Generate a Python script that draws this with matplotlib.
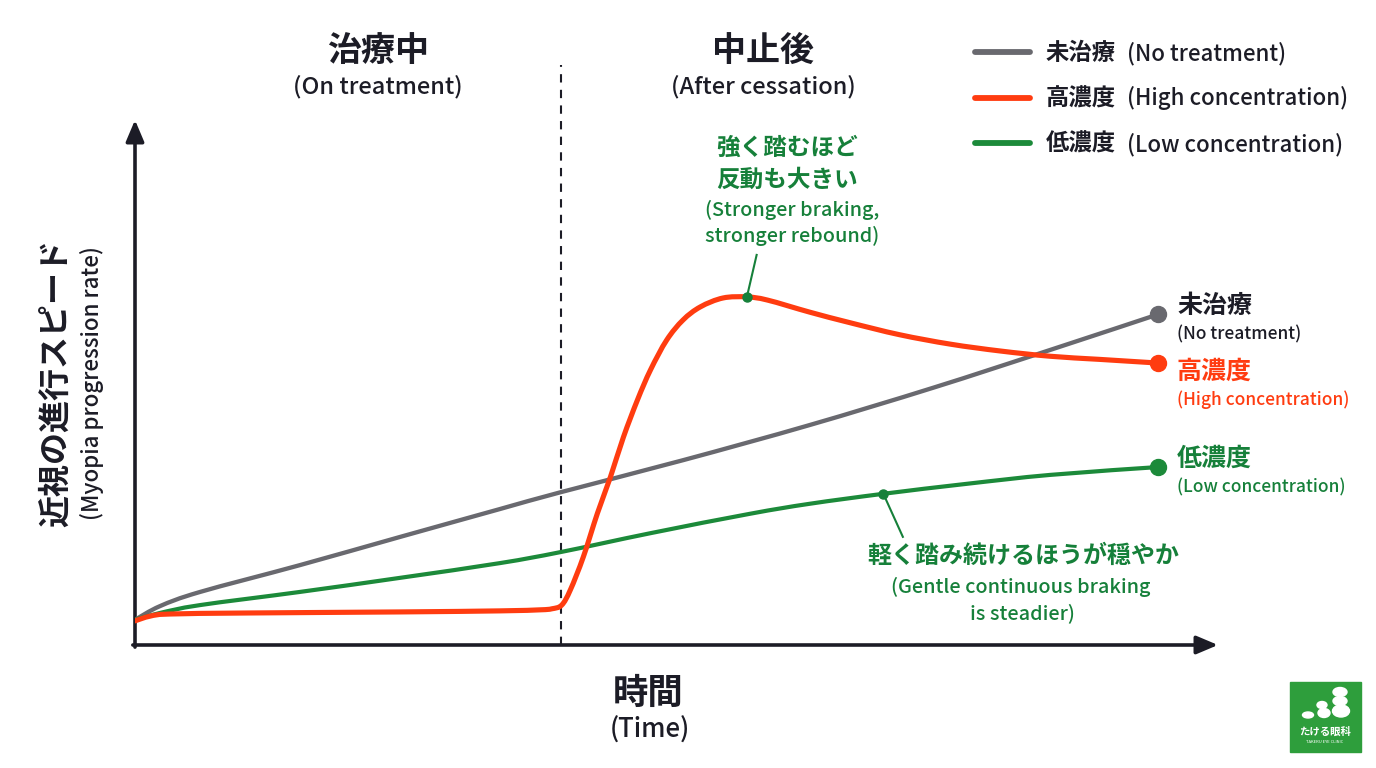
"""Myopia progression rate: on-treatment vs after-cessation (atropine concentration)."""

import matplotlib

matplotlib.use("Agg")
import matplotlib.pyplot as plt  # noqa: E402
import numpy as np  # noqa: E402
from matplotlib.patches import Ellipse, PathPatch, Rectangle  # noqa: E402
from matplotlib.path import Path  # noqa: E402

plt.rcParams["font.family"] = ["Noto Sans CJK JP", "DejaVu Sans"]

# --- data (time units 0..10, rate units 0..10) ---
CESSATION_T = 3.93

none_t = [0.0, 0.23, 0.60, 1.52, 2.45, 3.37, 3.93, 5.06, 6.23, 7.37, 8.45, 9.45]
none_v = [0.48, 0.74, 1.01, 1.52, 2.06, 2.59, 2.91, 3.52, 4.19, 4.90, 5.62, 6.30]

high_t = [0.0, 0.14, 0.32, 1.06, 2.45, 3.37, 3.74, 3.85, 3.94, 4.02, 4.14, 4.27,
          4.39, 4.51, 4.64, 4.76, 4.91, 5.06, 5.22, 5.43, 5.65, 5.84, 6.23, 6.60,
          7.06, 7.53, 7.99, 8.45, 8.91, 9.45]
high_v = [0.46, 0.55, 0.59, 0.61, 0.63, 0.65, 0.67, 0.69, 0.76, 1.05, 1.68, 2.51,
          3.20, 3.96, 4.67, 5.24, 5.81, 6.19, 6.44, 6.61, 6.63, 6.57, 6.34, 6.14,
          5.91, 5.73, 5.60, 5.50, 5.44, 5.37]

low_t = [0.0, 0.23, 0.60, 1.52, 2.45, 3.37, 3.93, 4.76, 5.68, 6.23, 6.91, 7.68, 8.45, 9.45]
low_v = [0.48, 0.61, 0.76, 1.01, 1.28, 1.56, 1.77, 2.13, 2.50, 2.69, 2.88, 3.07, 3.24, 3.39]

GRAY, RED, GREEN = "#69696f", "#ff3c10", "#1c8a3a"
TXT_GREEN = "#16803a"
INK = "#1c1c26"

W, H = 1376, 768


def fp(x, y):
    """pixel position -> figure fraction"""
    return x / W, 1 - y / H


def smooth_curve(ax, xs, ys, **kw):
    """Draw a Catmull-Rom style smooth line through the points as a bezier path."""
    pts = np.column_stack([xs, ys])
    n = len(pts)
    verts, codes = [pts[0]], [Path.MOVETO]
    for i in range(n - 1):
        p0 = pts[max(i - 1, 0)]
        p1, p2 = pts[i], pts[i + 1]
        p3 = pts[min(i + 2, n - 1)]
        verts += [p1 + (p2 - p0) / 6, p2 - (p3 - p1) / 6, p2]
        codes += [Path.CURVE4] * 3
    ax.add_patch(PathPatch(Path(verts, codes), fill=False, capstyle="round",
                           joinstyle="round", **kw))


fig = plt.figure(figsize=(W / 100, H / 100), dpi=100)
fig.patch.set_facecolor("white")
ax = fig.add_axes([135 / W, 1 - 645 / H, (1218 - 135) / W, (645 - 120) / H])
ax.set_xlim(0, 10)
ax.set_ylim(0, 10)
for s in ax.spines.values():
    s.set_visible(False)
ax.set_xticks([])
ax.set_yticks([])

# axes with arrow heads
arrow = dict(arrowstyle="-|>,head_length=1.3,head_width=0.55", color=INK, lw=2.6,
             shrinkA=0, shrinkB=0)
ax.annotate("", xy=(10, 0), xytext=(-0.02, 0), arrowprops=arrow, annotation_clip=False)
ax.annotate("", xy=(0, 10), xytext=(0, -0.04), arrowprops=arrow, annotation_clip=False)

# cessation marker
ax.plot([CESSATION_T, CESSATION_T], [0, 11.05], ls=(0, (4, 3.5)), color=INK, lw=1.5,
        clip_on=False, zorder=1)

smooth_curve(ax, none_t, none_v, edgecolor=GRAY, lw=3.1, zorder=3)
smooth_curve(ax, low_t, low_v, edgecolor=GREEN, lw=3.0, zorder=3)
smooth_curve(ax, high_t, high_v, edgecolor=RED, lw=3.7, zorder=4)
for t, v, c in [(none_t, none_v, GRAY), (high_t, high_v, RED), (low_t, low_v, GREEN)]:
    ax.plot(t[-1], v[-1], "o", color=c, ms=11.5, zorder=5)


def jp_en(x, y, jp, en, color, jp_size, en_size, gap=5):
    """Bold Japanese text followed by a medium-weight English part on the same line."""
    t = fig.text(*fp(x, y), jp, fontsize=jp_size, fontweight="bold", color=color,
                 ha="left", va="center")
    ax.annotate(en, xy=(1, 0), xycoords=t, xytext=(gap, 0), textcoords="offset points",
                fontsize=en_size, fontweight="medium", color=color, ha="left", va="bottom",
                annotation_clip=False)
    return t


# legend (drawn by hand so the row spacing matches)
legend_rows = [("未治療", "(No treatment)", GRAY), ("高濃度", "(High concentration)", RED),
               ("低濃度", "(Low concentration)", GREEN)]
for i, (jp, en, c) in enumerate(legend_rows):
    y = 52 + i * 45.5
    fig.add_artist(plt.Line2D([975 / W, 1030 / W], [1 - y / H] * 2, color=c, lw=4.2,
                              solid_capstyle="round"))
    jp_en(1046, y + 1, jp, en, INK, 16.8, 16, gap=8)

# phase headers
for cx, jp, en in [(378, "治療中", "(On treatment)"), (763, "中止後", "(After cessation)")]:
    fig.text(*fp(cx, 50), jp, fontsize=24.5, fontweight="bold", color=INK, ha="center", va="center")
    fig.text(*fp(cx, 87), en, fontsize=17, fontweight="medium", color=INK, ha="center", va="center")

# axis titles
fig.text(*fp(648, 693), "時間", fontsize=25.5, fontweight="bold", color=INK, ha="center", va="center")
fig.text(*fp(650, 730), "(Time)", fontsize=18.5, fontweight="medium", color=INK,
         ha="center", va="center")
fig.text(*fp(56, 383), "近視の進行スピード", fontsize=23, fontweight="bold", color=INK,
         ha="center", va="center", rotation=90)
fig.text(*fp(92, 383), "(Myopia progression rate)", fontsize=16, fontweight="medium", color=INK,
         ha="center", va="center", rotation=90)

# end labels: (japanese, english, colour, end value, offset of label from the end dot in px)
end_labels = [("未治療", "(No treatment)", INK, none_v[-1], -8),
              ("高濃度", "(High concentration)", RED, high_v[-1], 9),
              ("低濃度", "(Low concentration)", TXT_GREEN, low_v[-1], -8)]
for jp, en, c, v, off in end_labels:
    ydot = 645 - v * 52.5
    fig.text(*fp(1177, ydot + off), jp, fontsize=18, fontweight="bold", color=c, va="center")
    fig.text(*fp(1177, ydot + off + 28), en, fontsize=12.5, fontweight="medium", color=c,
             va="center")

# annotation: rebound peak
pk = high_v.index(max(high_v))
pk_t, pk_v = high_t[pk], high_v[pk]
ax.plot(pk_t, pk_v, "o", color=TXT_GREEN, ms=6.5, zorder=6)
ax.plot([pk_t, pk_t + 0.09], [pk_v, pk_v + 0.80], color=TXT_GREEN, lw=1.5, zorder=6)
fig.text(*fp(787, 148), "強く踏むほど", fontsize=17, fontweight="bold", color=TXT_GREEN,
         ha="center", va="center")
fig.text(*fp(787, 180), "反動も大きい", fontsize=17, fontweight="bold", color=TXT_GREEN,
         ha="center", va="center")
fig.text(*fp(792, 210), "(Stronger braking,", fontsize=14.3, fontweight="medium",
         color=TXT_GREEN, ha="center", va="center")
fig.text(*fp(792, 236), "stronger rebound)", fontsize=14.3, fontweight="medium",
         color=TXT_GREEN, ha="center", va="center")

# annotation: low-dose steady progression
lo_t, lo_v = low_t[10], low_v[10]
ax.plot(lo_t, lo_v, "o", color=TXT_GREEN, ms=6.5, zorder=6)
ax.plot([lo_t, lo_t + 0.18], [lo_v, lo_v - 0.82], color=TXT_GREEN, lw=1.5, zorder=6)
fig.text(*fp(1023, 556), "軽く踏み続けるほうが穏やか", fontsize=17.3, fontweight="bold",
         color=TXT_GREEN, ha="center", va="center")
fig.text(*fp(1021, 587), "(Gentle continuous braking", fontsize=14.3, fontweight="medium",
         color=TXT_GREEN, ha="center", va="center")
fig.text(*fp(1022, 613), "is steadier)", fontsize=14.3, fontweight="medium", color=TXT_GREEN,
         ha="center", va="center")

# clinic logo
fig.add_artist(Rectangle(fp(1290, 752), 71 / W, 70 / H, color="#2e9e3c", transform=fig.transFigure))
for x, y, w, h in [(1308, 715, 11, 6), (1322, 705, 10, 7), (1324, 713, 12, 9),
                   (1340, 692, 14, 9), (1340, 701, 14, 9), (1341, 711, 17, 12)]:
    fig.add_artist(Ellipse(fp(x, y), w / W, h / H, color="white", transform=fig.transFigure))
fig.text(*fp(1325, 732), "たける眼科", fontsize=7.5, fontweight="bold", color="white",
         ha="center", va="center")
fig.text(*fp(1325, 742), "TAKERU EYE CLINIC", fontsize=3, color="white", ha="center", va="center")

fig.savefig("out.png", dpi=100)
